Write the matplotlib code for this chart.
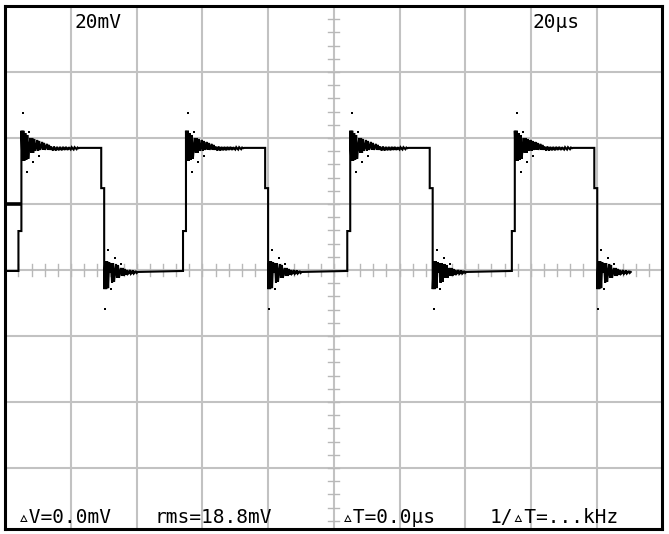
import matplotlib
matplotlib.use("Agg")
import matplotlib.pyplot as plt
import numpy as np

# ---------------- data (µs, mV) ----------------
volts_per_div_label = "20mV"
time_per_div_label = "20µs"
readouts = ["▵V=0.0mV", "rms=18.8mV", "▵T=0.0µs", "1/▵T=...kHz"]

low_level = -0.3
high_level = 37.0
rise_step_level = 11.8
fall_step_level = 24.8
stair_width = 0.9            # µs
sample_step = 0.3            # µs between ringing samples
rise_times = [4.9, 55.0, 105.0, 155.1]     # upper stair of rising edges
fall_times = [30.1, 80.0, 130.1, 180.2]    # lower stair of falling edges
ground_marker_level = 20.0
ground_marker_end = 4.9

# ringing after a rising edge (mV relative to high level)
rise_ring = [5.2, -3.9, 5.2, -3.9, 4.5, -3.6, 3.9, -3.3, 0.3,
             3.0, -1.5, 3.0, -1.5, 2.7, -0.9, 0.3,
             2.4, -0.9, 2.1, -0.6, 0.3,
             1.8, -0.6, 1.5, -0.6, 0.3,
             1.2, -0.6, 0.9, -0.6,
             0.4, -0.3, -0.8, 0.4, -0.3, -0.8, 0.3, -0.3, -0.7,
             0.3, -0.3, -0.7, 0.3, -0.2, -0.6, 0.3, -0.2, -0.6,
             0.2, -0.2, -0.5, 0.2, -0.2, -0.5, 0.2, -0.1, -0.4,
             0.1, -0.1, 0.0]
# ringing after a falling edge (mV relative to low level)
fall_ring = [-5.5, 3.0, -5.5, 3.0, -5.2, 2.7, -0.6,
             2.4, -3.6, 2.4, -3.3, -0.3,
             2.1, -2.1, 1.8, -2.1, -0.3,
             0.9, -1.5, 0.9, -1.5, 0.6, -1.2,
             0.3, -0.9, -0.6, 0.3, -0.9, -0.6, 0.2, -0.8, -0.5,
             0.0, -0.6, -0.3]
# isolated sample dots (µs after edge, mV relative to level)
rise_dots_t = [0.6, 2.4, 1.8, 3.6, 5.5]
rise_dots_v = [10.6, 4.8, -7.3, -4.2, -2.4]
fall_dots_t = [1.2, 3.3, 5.2, 2.1, 0.3]
fall_dots_v = [6.4, 3.9, 2.1, -5.5, -11.5]

# ---------------- build trace ----------------
t = [0.0]
v = [low_level]
dots_t, dots_v = [], []
for tr, tf in zip(rise_times, fall_times):
    t += [tr - stair_width, tr - stair_width, tr]
    v += [low_level, rise_step_level, rise_step_level]
    for i, off in enumerate(rise_ring):
        t.append(tr + i * sample_step)
        v.append(high_level + off)
    t += [tf - stair_width, tf - stair_width, tf]
    v += [high_level, fall_step_level, fall_step_level]
    for i, off in enumerate(fall_ring):
        t.append(tf + i * sample_step)
        v.append(low_level + off)
    dots_t += [tr + d for d in rise_dots_t]
    dots_v += [high_level + d for d in rise_dots_v]
    dots_t += [tf + d for d in fall_dots_t]
    dots_v += [low_level + d for d in fall_dots_v]

# ---------------- figure ----------------
W, H = 669, 534
fig = plt.figure(figsize=(W / 100, H / 100), dpi=100)
fig.patch.set_facecolor("white")
left_px, right_px, top_px, bot_px = 5.3, 662.3, 6.0, 529.0
ax = fig.add_axes([left_px / W, (H - bot_px) / H,
                   (right_px - left_px) / W, (bot_px - top_px) / H])
ax.set_xlim(0, 200)
ax.set_ylim(-78.5, 80)

grid_c = "#c2c2c2"
ax.set_xticks(np.arange(0, 201, 20))
ax.set_yticks(np.arange(-60, 81, 20))
ax.tick_params(length=0, labelbottom=False, labelleft=False)
ax.grid(True, color=grid_c, linewidth=1.5, zorder=0)
ax.set_axisbelow(True)

# minor ticks on centre cross
tick_c = "#b8b8b8"
for x in np.arange(0, 201, 4):
    ax.plot([x, x], [-1.7, 1.7], color=tick_c, lw=1.0, zorder=1)
for y in np.arange(-76, 80, 4):
    ax.plot([98.3, 101.7], [y, y], color=tick_c, lw=1.0, zorder=1)

for s in ax.spines.values():
    s.set_linewidth(2.2)
    s.set_color("black")

# trace
ax.plot(t, v, color="black", lw=1.5, solid_joinstyle="miter", zorder=3)
ax.plot([0, ground_marker_end], [ground_marker_level, ground_marker_level],
        color="black", lw=2.6, solid_capstyle="butt", zorder=3)
ax.scatter(dots_t, dots_v, s=3, marker="s", color="black", linewidths=0, zorder=3)

fam = ["DejaVu Sans Mono", "DejaVu Sans"]
fs = 14
fig.text(74 / W, 1 - 28 / H, volts_per_div_label, family=fam, fontsize=fs,
         ha="left", va="baseline")
fig.text(533 / W, 1 - 28 / H, time_per_div_label, family=fam, fontsize=fs,
         ha="left", va="baseline")
for xp, s in zip([18, 155, 342, 490], readouts):
    fig.text(xp / W, 1 - 523 / H, s, family=fam, fontsize=fs,
             ha="left", va="baseline")

fig.savefig("out.png", dpi=100, facecolor="white")
